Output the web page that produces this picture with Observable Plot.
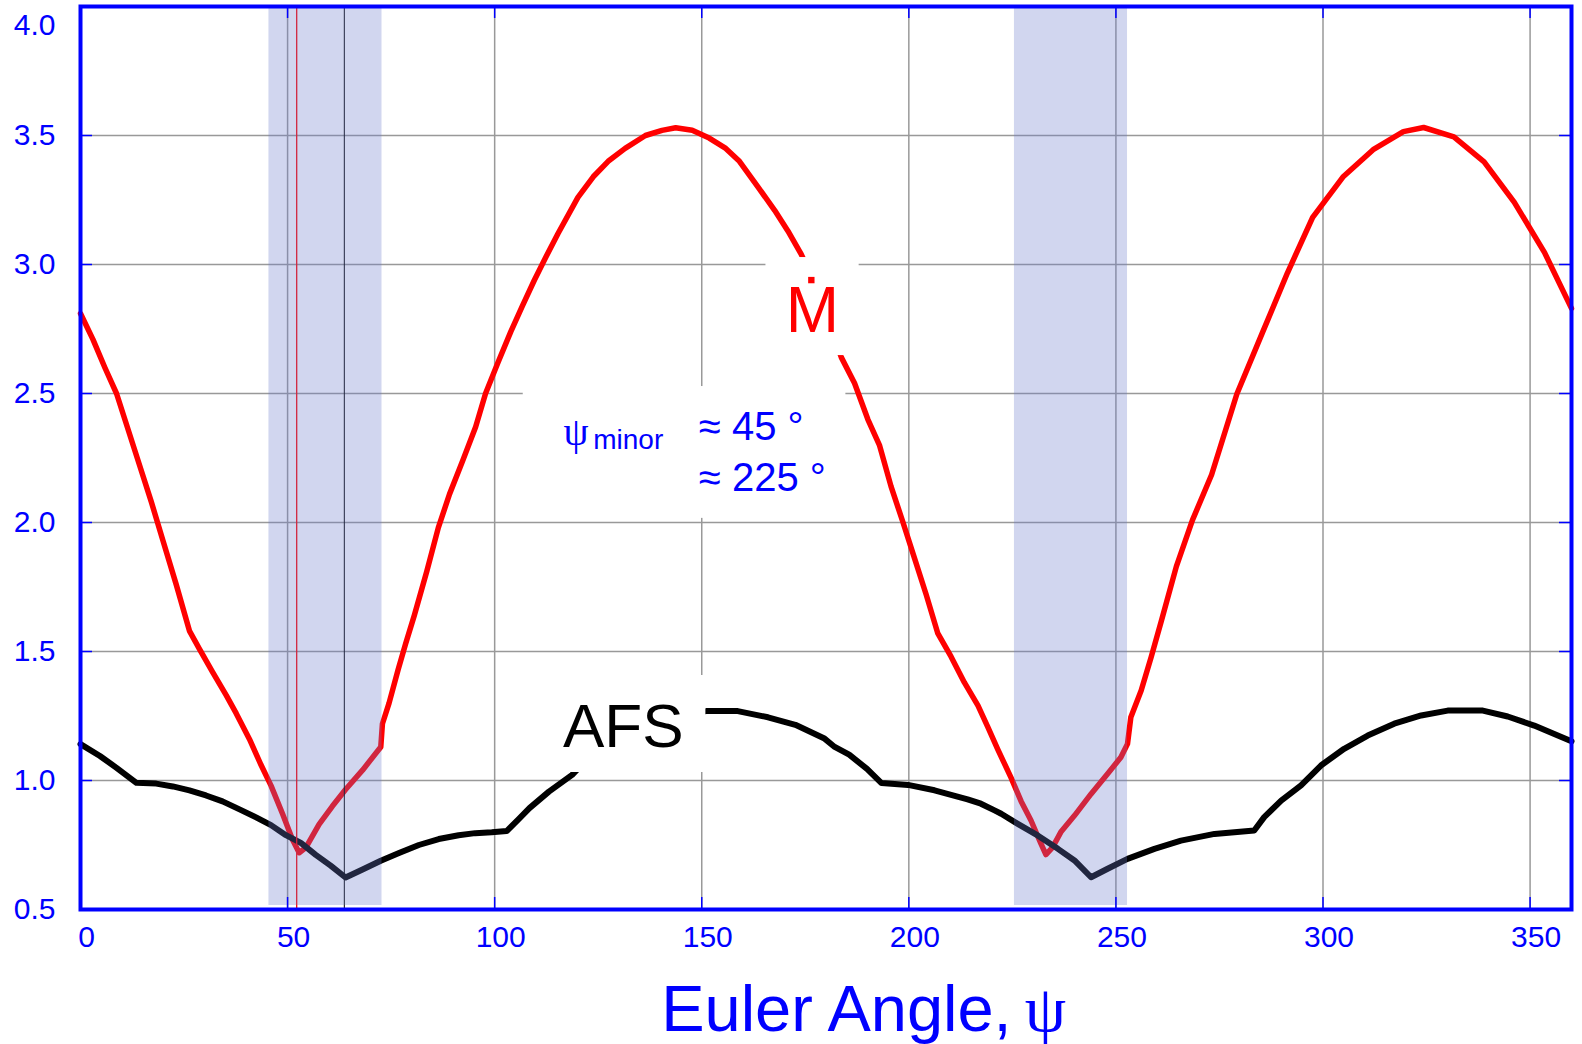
<!DOCTYPE html>
<html>
<head>
<meta charset="utf-8">
<script src="https://cdn.jsdelivr.net/npm/d3@7"></script>
<script src="https://cdn.jsdelivr.net/npm/@observablehq/plot@0.6"></script>
<style>
  html, body { margin: 0; padding: 0; background: #fff; }
  #chart { width: 1582px; height: 1044px; }
</style>
</head>
<body>
<div id="chart"></div>
<script>
// Mass flow rate (M-dot) against Euler angle ψ, degrees
const mdotAngle = [
  0, 3.0, 5.9, 8.7, 11.9, 14.3, 17.1, 19.9, 23.1, 26.3, 28.7, 31.9, 35.2, 37.6, 40.8, 43.6,
  46.0, 48.8, 51.2, 52.8, 54.4, 57.6, 60.8, 64.0, 68.1, 72.5, 72.9, 74.5, 76.7, 78.5, 80.6,
  83.6, 86.4, 89.1, 92.3, 95.4, 97.8, 100.8, 103.9, 106.7, 109.6, 112.4, 115.3, 120.1, 123.8,
  127.4, 131.5, 136.4, 140.4, 143.7, 147.7, 151.8, 155.8, 159.1, 163.6, 167.6, 170.8, 174.0,
  177.5, 180.5, 183.7, 186.9, 190.1, 192.9, 195.7, 198.6, 201.4, 204.2, 207.0, 210.2, 213.4,
  216.7, 219.0, 221.5, 224.7, 227.1, 229.5, 231.9, 233.1, 234.7, 236.7, 240.0, 244.0, 248.0,
  251.2, 252.8, 253.6, 256.1, 258.5, 261.0, 264.6, 268.5, 273.1, 279.2, 285.3, 291.4, 297.5,
  304.8, 312.1, 319.4, 324.3, 331.6, 338.9, 346.2, 353.5, 360
];
const mdotValue = [
  2.81, 2.71, 2.60, 2.50, 2.34, 2.22, 2.08, 1.93, 1.76, 1.58, 1.51, 1.42, 1.33, 1.26, 1.16, 1.06,
  0.98, 0.87, 0.77, 0.72, 0.74, 0.83, 0.90, 0.965, 1.04, 1.13, 1.22, 1.30, 1.43, 1.53, 1.64,
  1.81, 1.98, 2.11, 2.24, 2.37, 2.50, 2.62, 2.74, 2.84, 2.94, 3.03, 3.12, 3.26, 3.34,
  3.40, 3.45, 3.50, 3.52, 3.53, 3.52, 3.49, 3.45, 3.40, 3.30, 3.21, 3.13, 3.04,
  2.92, 2.78, 2.64, 2.54, 2.40, 2.30, 2.14, 2.00, 1.86, 1.72, 1.57, 1.48, 1.38,
  1.29, 1.21, 1.12, 1.01, 0.92, 0.845, 0.755, 0.713, 0.741, 0.80, 0.864, 0.948, 1.026,
  1.09, 1.142, 1.245, 1.349, 1.478, 1.62, 1.83, 2.01, 2.185, 2.498, 2.733, 2.967, 3.183,
  3.339, 3.445, 3.515, 3.531, 3.495, 3.398, 3.241, 3.046, 2.83
];

// AFS against Euler angle ψ, degrees
const afsAngle = [
  0, 4.7, 8.7, 13.5, 18.3, 22.3, 26.3, 30.3, 34.3, 38.4, 42.4, 46.0, 49.6, 53.2, 56.8, 60.4,
  64.0, 68.1, 72.5, 76.9, 81.7, 86.5, 91.3, 95.3, 99.3, 102.9, 105.8, 108.4, 113.1, 118.7,
  121.0, 125.0, 131.0, 137.0, 143.0, 151.1, 158.7, 166.0, 172.6, 179.5, 182.1, 185.6, 189.9,
  193.4, 199.8, 206.2, 214.2, 217.4, 220.7, 222.3, 226.3, 231.1, 236.0, 240.0, 244.0, 248.0,
  252.8, 259.3, 265.7, 273.8, 283.4, 285.8, 289.9, 294.7, 299.5, 305.1, 310.8, 317.2, 323.7,
  330.1, 338.6, 344.6, 351.0, 356.7, 360
];
const afsValue = [
  1.141, 1.095, 1.049, 0.991, 0.988, 0.977, 0.962, 0.942, 0.919, 0.888, 0.857, 0.827, 0.788, 0.758, 0.712, 0.670,
  0.624, 0.655, 0.689, 0.719, 0.750, 0.773, 0.788, 0.796, 0.799, 0.804, 0.850, 0.893, 0.957, 1.022,
  1.06, 1.11, 1.17, 1.22, 1.25, 1.269, 1.269, 1.245, 1.216, 1.164, 1.13, 1.10, 1.045,
  0.990, 0.983, 0.962, 0.927, 0.910, 0.884, 0.871, 0.832, 0.787, 0.735, 0.690, 0.625, 0.658,
  0.696, 0.735, 0.767, 0.793, 0.806, 0.858, 0.922, 0.981, 1.058, 1.123, 1.174, 1.220, 1.252,
  1.271, 1.271, 1.248, 1.213, 1.174, 1.152
];

// axis ticks
const xTicks = [0, 50, 100, 150, 200, 250, 300, 350];
const yTicks = [0.5, 1.0, 1.5, 2.0, 2.5, 3.0, 3.5, 4.0];

// shaded ψ ranges around the minor-axis orientation
const bandStart = [45.5, 225.5];
const bandEnd = [72.8, 252.8];

// angles of the two minima marked with thin vertical lines
const mdotMinAngle = 52.2;
const afsMinAngle = 63.7;

// tables for the marks
const mdot = mdotAngle.map((a, i) => ({angle: a, value: mdotValue[i]}));
const afs = afsAngle.map((a, i) => ({angle: a, value: afsValue[i]}));
const bands = bandStart.map((s, i) => ({start: s, end: bandEnd[i]}));

// ---- layout ----
const W = 1582, H = 1044;
const mL = 80, mR = 11, mT = 6, mB = 135;
const frameW = W - mL - mR, frameH = H - mT - mB;
const blue = "#0000ff";
const sans = "'Liberation Sans', Arial, Helvetica, sans-serif";
const serif = "'Liberation Serif', 'Times New Roman', 'DejaVu Serif', serif";
const tickLen = 12;

// white panels behind the in-plot labels (data units)
const labelBoxes = [
  {x1: 165.5, x2: 188.0, y1: 2.647, y2: 3.027},  // M-dot
  {x1: 106.9, x2: 184.8, y1: 2.016, y2: 2.527},  // ψ minor note
  {x1: 111.2, x2: 151.0, y1: 1.031, y2: 1.407}   // AFS
];
const mdotLabel = {x: 176.7, y: 2.740};
const afsLabel = {x: 116.5, y: 1.128};
const psiLabel = {x: 116.6, y: 2.300};
const minorLabel = {x: 123.8, y: 2.283};
const approxLines = [
  {text: "≈ 45 °", x: 149.3, y: 2.318},
  {text: "≈ 225 °", x: 149.3, y: 2.124}
];

const chart = Plot.plot({
  width: W,
  height: H,
  marginLeft: mL,
  marginRight: mR,
  marginTop: mT,
  marginBottom: mB,
  style: {fontFamily: sans, background: "white", overflow: "visible"},
  x: {domain: [0, 360]},
  y: {domain: [0.5, 4.0]},
  marks: [
    // grid
    Plot.gridX(xTicks, {stroke: "#999", strokeOpacity: 1, strokeWidth: 1.5}),
    Plot.gridY(yTicks, {stroke: "#999", strokeOpacity: 1, strokeWidth: 1.5}),

    // curves
    Plot.line(mdot, {x: "angle", y: "value", stroke: "#ff0000", strokeWidth: 5.5, strokeLinejoin: "round"}),
    Plot.line(afs, {x: "angle", y: "value", stroke: "#000000", strokeWidth: 6, strokeLinejoin: "round"}),

    // minima markers
    Plot.ruleX([mdotMinAngle], {stroke: "#ff0000", strokeWidth: 1.3}),
    Plot.ruleX([afsMinAngle], {stroke: "#000000", strokeWidth: 1}),

    // translucent bands over the curves
    Plot.rect(bands, {x1: "start", x2: "end", fill: "#6a7acc", fillOpacity: 0.31, insetBottom: 4}),

    // label panels
    Plot.rect(labelBoxes, {x1: "x1", x2: "x2", y1: "y1", y2: "y2", fill: "white"}),

    // M-dot label: letter plus the overdot
    Plot.text([mdotLabel], {x: "x", y: "y", text: () => "M", fontSize: 64, fill: "#ff0000",
      textAnchor: "middle", lineAnchor: "bottom"}),
    Plot.dot([mdotLabel], {x: "x", y: "y", symbol: "square", r: 3.6, fill: "#ff0000", stroke: null,
      dx: -1, dy: -51.5}),

    // AFS label
    Plot.text([afsLabel], {x: "x", y: "y", text: () => "AFS", fontSize: 62, fill: "#000000",
      textAnchor: "start", lineAnchor: "bottom"}),

    // ψ_minor note
    Plot.text([psiLabel], {x: "x", y: "y", text: () => "ψ", fontSize: 40, fontFamily: serif, fill: blue,
      textAnchor: "start", lineAnchor: "bottom"}),
    Plot.text([minorLabel], {x: "x", y: "y", text: () => "minor", fontSize: 28, fill: blue,
      textAnchor: "start", lineAnchor: "bottom"}),
    Plot.text(approxLines, {x: "x", y: "y", text: "text", fontSize: 40, fill: blue,
      textAnchor: "start", lineAnchor: "bottom"}),

    // inward ticks on all four sides
    Plot.ruleX(xTicks, {stroke: blue, strokeWidth: 1.5, insetTop: frameH - tickLen}),
    Plot.ruleX(xTicks, {stroke: blue, strokeWidth: 1.5, insetBottom: frameH - tickLen}),
    Plot.ruleY(yTicks, {stroke: blue, strokeWidth: 1.5, insetRight: frameW - tickLen}),
    Plot.ruleY(yTicks, {stroke: blue, strokeWidth: 1.5, insetLeft: frameW - tickLen}),

    Plot.frame({stroke: blue, strokeWidth: 4}),

    // tick labels
    Plot.axisX(xTicks, {tickSize: 0, tickPadding: 16, fontSize: 30, color: blue, dx: 6, label: null}),
    Plot.axisY(yTicks.filter(d => d < 4), {tickSize: 0, tickPadding: 25, fontSize: 30, color: blue,
      tickFormat: d3.format(".1f"), label: null}),
    Plot.text(yTicks.filter(d => d >= 4), {y: d => d, frameAnchor: "left", dx: -25, dy: 7,
      text: d3.format(".1f"), fontSize: 30, fill: blue, textAnchor: "end", lineAnchor: "top"}),

    // x-axis title
    Plot.text(["Euler Angle,"], {x: () => 140.2, frameAnchor: "bottom", dy: 121, text: d => d,
      fontSize: 65, fill: blue, textAnchor: "start", lineAnchor: "bottom"}),
    Plot.text(["ψ"], {x: () => 228.0, frameAnchor: "bottom", dy: 121, text: d => d,
      fontSize: 66, fontFamily: serif, fill: blue, textAnchor: "start", lineAnchor: "bottom"})
  ]
});

document.getElementById("chart").appendChild(chart);
</script>
</body>
</html>
